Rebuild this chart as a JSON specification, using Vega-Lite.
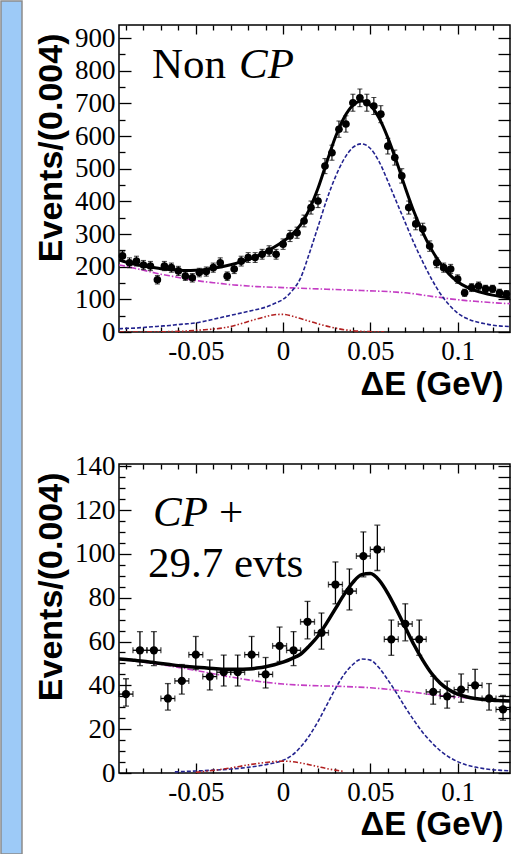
{
"$schema": "https://vega.github.io/schema/vega-lite/v6.json",
"background": "white",
"padding": 0,
"spacing": 10,
"bounds": "full",
"config": {
  "view": {"stroke": "#000", "strokeWidth": 1.5},
  "axis": {"grid": false, "domain": false, "tickColor": "#000", "tickWidth": 1.3, "labelOverlap": false, "labelFlush": false, "labelFont": "Liberation Serif", "labelFontSize": 27}
},
"datasets": {
  "tPts": [
    {"x":-0.092,"y":233,"lo":218,"hi":248,"xl":-0.094,"xh":-0.090},
    {"x":-0.088,"y":212,"lo":197,"hi":227,"xl":-0.090,"xh":-0.086},
    {"x":-0.084,"y":217,"lo":202,"hi":232,"xl":-0.086,"xh":-0.082},
    {"x":-0.080,"y":205,"lo":191,"hi":219,"xl":-0.082,"xh":-0.078},
    {"x":-0.076,"y":202,"lo":188,"hi":216,"xl":-0.078,"xh":-0.074},
    {"x":-0.072,"y":160,"lo":147,"hi":173,"xl":-0.074,"xh":-0.070},
    {"x":-0.068,"y":202,"lo":188,"hi":216,"xl":-0.070,"xh":-0.066},
    {"x":-0.064,"y":197,"lo":183,"hi":211,"xl":-0.066,"xh":-0.062},
    {"x":-0.060,"y":187,"lo":173,"hi":201,"xl":-0.062,"xh":-0.058},
    {"x":-0.056,"y":171,"lo":158,"hi":184,"xl":-0.058,"xh":-0.054},
    {"x":-0.052,"y":166,"lo":153,"hi":179,"xl":-0.054,"xh":-0.050},
    {"x":-0.048,"y":182,"lo":169,"hi":195,"xl":-0.050,"xh":-0.046},
    {"x":-0.044,"y":185,"lo":171,"hi":199,"xl":-0.046,"xh":-0.042},
    {"x":-0.040,"y":197,"lo":183,"hi":211,"xl":-0.042,"xh":-0.038},
    {"x":-0.036,"y":212,"lo":197,"hi":227,"xl":-0.038,"xh":-0.034},
    {"x":-0.032,"y":171,"lo":158,"hi":184,"xl":-0.034,"xh":-0.030},
    {"x":-0.028,"y":193,"lo":179,"hi":207,"xl":-0.030,"xh":-0.026},
    {"x":-0.024,"y":217,"lo":202,"hi":232,"xl":-0.026,"xh":-0.022},
    {"x":-0.020,"y":228,"lo":213,"hi":243,"xl":-0.022,"xh":-0.018},
    {"x":-0.016,"y":228,"lo":213,"hi":243,"xl":-0.018,"xh":-0.014},
    {"x":-0.012,"y":238,"lo":223,"hi":253,"xl":-0.014,"xh":-0.010},
    {"x":-0.008,"y":248,"lo":232,"hi":264,"xl":-0.010,"xh":-0.006},
    {"x":-0.004,"y":238,"lo":223,"hi":253,"xl":-0.006,"xh":-0.002},
    {"x":0.000,"y":269,"lo":253,"hi":285,"xl":-0.002,"xh":0.002},
    {"x":0.004,"y":294,"lo":277,"hi":311,"xl":0.002,"xh":0.006},
    {"x":0.008,"y":304,"lo":287,"hi":321,"xl":0.006,"xh":0.010},
    {"x":0.012,"y":340,"lo":322,"hi":358,"xl":0.010,"xh":0.014},
    {"x":0.016,"y":381,"lo":361,"hi":401,"xl":0.014,"xh":0.018},
    {"x":0.020,"y":401,"lo":381,"hi":421,"xl":0.018,"xh":0.022},
    {"x":0.024,"y":508,"lo":485,"hi":531,"xl":0.022,"xh":0.026},
    {"x":0.028,"y":549,"lo":526,"hi":572,"xl":0.026,"xh":0.030},
    {"x":0.032,"y":621,"lo":596,"hi":646,"xl":0.030,"xh":0.034},
    {"x":0.036,"y":637,"lo":612,"hi":662,"xl":0.034,"xh":0.038},
    {"x":0.040,"y":702,"lo":676,"hi":728,"xl":0.038,"xh":0.042},
    {"x":0.044,"y":717,"lo":690,"hi":744,"xl":0.042,"xh":0.046},
    {"x":0.048,"y":702,"lo":676,"hi":728,"xl":0.046,"xh":0.050},
    {"x":0.052,"y":692,"lo":666,"hi":718,"xl":0.050,"xh":0.054},
    {"x":0.056,"y":667,"lo":641,"hi":693,"xl":0.054,"xh":0.058},
    {"x":0.060,"y":569,"lo":545,"hi":593,"xl":0.058,"xh":0.062},
    {"x":0.064,"y":534,"lo":511,"hi":557,"xl":0.062,"xh":0.066},
    {"x":0.068,"y":478,"lo":456,"hi":500,"xl":0.066,"xh":0.070},
    {"x":0.072,"y":381,"lo":361,"hi":401,"xl":0.070,"xh":0.074},
    {"x":0.076,"y":331,"lo":313,"hi":349,"xl":0.074,"xh":0.078},
    {"x":0.080,"y":315,"lo":297,"hi":333,"xl":0.078,"xh":0.082},
    {"x":0.084,"y":263,"lo":247,"hi":279,"xl":0.082,"xh":0.086},
    {"x":0.088,"y":212,"lo":197,"hi":227,"xl":0.086,"xh":0.090},
    {"x":0.092,"y":197,"lo":183,"hi":211,"xl":0.090,"xh":0.094},
    {"x":0.096,"y":193,"lo":179,"hi":207,"xl":0.094,"xh":0.098},
    {"x":0.100,"y":162,"lo":149,"hi":175,"xl":0.098,"xh":0.102},
    {"x":0.104,"y":120,"lo":109,"hi":131,"xl":0.102,"xh":0.106},
    {"x":0.108,"y":136,"lo":124,"hi":148,"xl":0.106,"xh":0.110},
    {"x":0.112,"y":141,"lo":129,"hi":153,"xl":0.110,"xh":0.114},
    {"x":0.116,"y":132,"lo":121,"hi":143,"xl":0.114,"xh":0.118},
    {"x":0.120,"y":132,"lo":121,"hi":143,"xl":0.118,"xh":0.122},
    {"x":0.124,"y":120,"lo":109,"hi":131,"xl":0.122,"xh":0.126},
    {"x":0.128,"y":116,"lo":105,"hi":127,"xl":0.126,"xh":0.130}
  ],
  "tFit": [{"x":-0.094,"y":221},{"x":-0.09,"y":214},{"x":-0.085,"y":207},{"x":-0.08,"y":202},{"x":-0.075,"y":198},{"x":-0.07,"y":194},{"x":-0.065,"y":191},{"x":-0.06,"y":189},{"x":-0.055,"y":188},{"x":-0.05,"y":189},{"x":-0.045,"y":191},{"x":-0.04,"y":195},{"x":-0.035,"y":200},{"x":-0.03,"y":206},{"x":-0.025,"y":213},{"x":-0.02,"y":222},{"x":-0.015,"y":232},{"x":-0.01,"y":245},{"x":-0.005,"y":260},{"x":0,"y":277},{"x":0.005,"y":298},{"x":0.01,"y":328},{"x":0.015,"y":375},{"x":0.02,"y":440},{"x":0.025,"y":520},{"x":0.03,"y":597},{"x":0.035,"y":657},{"x":0.04,"y":694},{"x":0.045,"y":707},{"x":0.05,"y":694},{"x":0.055,"y":655},{"x":0.06,"y":595},{"x":0.065,"y":522},{"x":0.07,"y":442},{"x":0.075,"y":368},{"x":0.08,"y":305},{"x":0.085,"y":253},{"x":0.09,"y":211},{"x":0.095,"y":178},{"x":0.1,"y":154},{"x":0.105,"y":138},{"x":0.11,"y":127},{"x":0.115,"y":119},{"x":0.12,"y":113},{"x":0.125,"y":108},{"x":0.13,"y":104}],
  "tBkg": [{"x":-0.094,"y":205},{"x":-0.09,"y":201},{"x":-0.085,"y":195},{"x":-0.08,"y":189},{"x":-0.075,"y":183},{"x":-0.07,"y":177},{"x":-0.065,"y":172},{"x":-0.06,"y":167},{"x":-0.055,"y":162},{"x":-0.05,"y":158},{"x":-0.045,"y":154},{"x":-0.04,"y":151},{"x":-0.035,"y":148},{"x":-0.03,"y":145},{"x":-0.025,"y":143},{"x":-0.02,"y":141},{"x":-0.015,"y":139},{"x":-0.01,"y":138},{"x":-0.005,"y":137},{"x":0,"y":136},{"x":0.005,"y":135},{"x":0.01,"y":134},{"x":0.015,"y":133},{"x":0.02,"y":132},{"x":0.025,"y":131},{"x":0.03,"y":130},{"x":0.035,"y":129},{"x":0.04,"y":128},{"x":0.045,"y":127},{"x":0.05,"y":126},{"x":0.055,"y":125},{"x":0.06,"y":124},{"x":0.065,"y":122},{"x":0.07,"y":120},{"x":0.075,"y":117},{"x":0.08,"y":113},{"x":0.085,"y":109},{"x":0.09,"y":106},{"x":0.095,"y":102},{"x":0.1,"y":99},{"x":0.105,"y":96},{"x":0.11,"y":94},{"x":0.115,"y":92},{"x":0.12,"y":90},{"x":0.125,"y":88},{"x":0.13,"y":87}],
  "tSig": [{"x":-0.094,"y":10},{"x":-0.09,"y":11},{"x":-0.085,"y":12},{"x":-0.08,"y":14},{"x":-0.075,"y":16},{"x":-0.07,"y":18},{"x":-0.065,"y":20},{"x":-0.06,"y":23},{"x":-0.055,"y":25},{"x":-0.05,"y":28},{"x":-0.045,"y":33},{"x":-0.04,"y":39},{"x":-0.035,"y":45},{"x":-0.03,"y":51},{"x":-0.025,"y":57},{"x":-0.02,"y":63},{"x":-0.015,"y":69},{"x":-0.01,"y":76},{"x":-0.005,"y":87},{"x":0,"y":100},{"x":0.005,"y":125},{"x":0.01,"y":165},{"x":0.015,"y":240},{"x":0.02,"y":322},{"x":0.025,"y":405},{"x":0.03,"y":475},{"x":0.035,"y":530},{"x":0.04,"y":565},{"x":0.045,"y":576},{"x":0.05,"y":562},{"x":0.055,"y":522},{"x":0.06,"y":462},{"x":0.065,"y":398},{"x":0.07,"y":335},{"x":0.075,"y":272},{"x":0.08,"y":215},{"x":0.085,"y":163},{"x":0.09,"y":118},{"x":0.095,"y":84},{"x":0.1,"y":58},{"x":0.105,"y":42},{"x":0.11,"y":32},{"x":0.115,"y":26},{"x":0.12,"y":21},{"x":0.125,"y":18},{"x":0.13,"y":17}],
  "tPk": [{"x":-0.094,"y":0},{"x":-0.085,"y":0},{"x":-0.08,"y":0.2},{"x":-0.075,"y":0.4},{"x":-0.07,"y":0.7},{"x":-0.065,"y":1.2},{"x":-0.06,"y":2},{"x":-0.055,"y":3},{"x":-0.05,"y":5},{"x":-0.045,"y":7},{"x":-0.04,"y":9},{"x":-0.035,"y":12},{"x":-0.03,"y":17},{"x":-0.025,"y":24},{"x":-0.02,"y":32},{"x":-0.015,"y":40},{"x":-0.01,"y":47},{"x":-0.005,"y":53},{"x":0,"y":54},{"x":0.005,"y":49},{"x":0.01,"y":41},{"x":0.015,"y":33},{"x":0.02,"y":25},{"x":0.025,"y":18},{"x":0.03,"y":12},{"x":0.035,"y":7},{"x":0.04,"y":4},{"x":0.045,"y":2},{"x":0.05,"y":1},{"x":0.055,"y":0.4},{"x":0.058,"y":0.2}],
  "bPts": [
    {"x":-0.090,"y":36,"lo":30.5,"hi":43,"xl":-0.094,"xh":-0.086},
    {"x":-0.082,"y":56,"lo":49,"hi":64.5,"xl":-0.086,"xh":-0.078},
    {"x":-0.074,"y":56,"lo":49,"hi":64.5,"xl":-0.078,"xh":-0.070},
    {"x":-0.066,"y":34,"lo":28.7,"hi":40.8,"xl":-0.070,"xh":-0.062},
    {"x":-0.058,"y":42,"lo":36,"hi":49.5,"xl":-0.062,"xh":-0.054},
    {"x":-0.050,"y":54,"lo":47.2,"hi":62.3,"xl":-0.054,"xh":-0.046},
    {"x":-0.042,"y":44,"lo":37.9,"hi":51.6,"xl":-0.046,"xh":-0.038},
    {"x":-0.034,"y":46,"lo":39.7,"hi":53.8,"xl":-0.038,"xh":-0.030},
    {"x":-0.026,"y":46,"lo":39.7,"hi":53.8,"xl":-0.030,"xh":-0.022},
    {"x":-0.018,"y":54,"lo":47.2,"hi":62.3,"xl":-0.022,"xh":-0.014},
    {"x":-0.010,"y":45,"lo":38.8,"hi":52.7,"xl":-0.014,"xh":-0.006},
    {"x":-0.002,"y":58,"lo":50.9,"hi":66.6,"xl":-0.006,"xh":0.002},
    {"x":0.006,"y":56,"lo":49,"hi":64.5,"xl":0.002,"xh":0.010},
    {"x":0.014,"y":69,"lo":61.2,"hi":78.3,"xl":0.010,"xh":0.018},
    {"x":0.022,"y":64,"lo":56.5,"hi":73,"xl":0.018,"xh":0.026},
    {"x":0.030,"y":86,"lo":77.2,"hi":96.3,"xl":0.026,"xh":0.034},
    {"x":0.038,"y":83,"lo":74.4,"hi":93.1,"xl":0.034,"xh":0.042},
    {"x":0.046,"y":99,"lo":89.5,"hi":110,"xl":0.042,"xh":0.050},
    {"x":0.054,"y":102,"lo":92.4,"hi":113.1,"xl":0.050,"xh":0.058},
    {"x":0.062,"y":61,"lo":53.7,"hi":69.8,"xl":0.058,"xh":0.066},
    {"x":0.070,"y":68,"lo":60.3,"hi":77.2,"xl":0.066,"xh":0.074},
    {"x":0.078,"y":61,"lo":53.7,"hi":69.8,"xl":0.074,"xh":0.082},
    {"x":0.086,"y":37,"lo":31.4,"hi":44.1,"xl":0.082,"xh":0.090},
    {"x":0.094,"y":35,"lo":29.6,"hi":41.9,"xl":0.090,"xh":0.098},
    {"x":0.102,"y":38,"lo":32.3,"hi":45.2,"xl":0.098,"xh":0.106},
    {"x":0.110,"y":40,"lo":34.2,"hi":47.3,"xl":0.106,"xh":0.114},
    {"x":0.118,"y":34,"lo":28.7,"hi":40.8,"xl":0.114,"xh":0.122},
    {"x":0.126,"y":29,"lo":24.1,"hi":35.4,"xl":0.122,"xh":0.130}
  ],
  "bFit": [{"x":-0.094,"y":52},{"x":-0.09,"y":51.8},{"x":-0.085,"y":51.4},{"x":-0.08,"y":51},{"x":-0.075,"y":50.5},{"x":-0.07,"y":50},{"x":-0.065,"y":49.5},{"x":-0.06,"y":49},{"x":-0.055,"y":48.6},{"x":-0.05,"y":48.3},{"x":-0.045,"y":48},{"x":-0.04,"y":47.7},{"x":-0.035,"y":47.4},{"x":-0.03,"y":47.3},{"x":-0.025,"y":47.3},{"x":-0.02,"y":47.5},{"x":-0.015,"y":47.9},{"x":-0.01,"y":48.5},{"x":-0.005,"y":49.4},{"x":0,"y":50.6},{"x":0.005,"y":52.2},{"x":0.01,"y":54.2},{"x":0.015,"y":58},{"x":0.02,"y":62.5},{"x":0.025,"y":68.5},{"x":0.03,"y":75},{"x":0.035,"y":81.5},{"x":0.04,"y":87},{"x":0.045,"y":90.5},{"x":0.05,"y":91},{"x":0.055,"y":88},{"x":0.06,"y":82},{"x":0.065,"y":74.5},{"x":0.07,"y":66.5},{"x":0.075,"y":58.5},{"x":0.08,"y":51.5},{"x":0.085,"y":45.5},{"x":0.09,"y":41},{"x":0.095,"y":38},{"x":0.1,"y":36},{"x":0.105,"y":34.8},{"x":0.11,"y":34},{"x":0.115,"y":33.5},{"x":0.12,"y":33.2},{"x":0.125,"y":33},{"x":0.13,"y":32.8}],
  "bBkg": [{"x":-0.094,"y":52},{"x":-0.09,"y":51.6},{"x":-0.08,"y":50.6},{"x":-0.07,"y":49.5},{"x":-0.06,"y":48.2},{"x":-0.05,"y":46.8},{"x":-0.04,"y":45.3},{"x":-0.03,"y":43.8},{"x":-0.02,"y":42.5},{"x":-0.01,"y":41.4},{"x":0,"y":40.6},{"x":0.01,"y":40.1},{"x":0.02,"y":39.8},{"x":0.03,"y":39.6},{"x":0.04,"y":39.3},{"x":0.05,"y":38.9},{"x":0.06,"y":38.2},{"x":0.07,"y":37.3},{"x":0.08,"y":36.3},{"x":0.09,"y":35.3},{"x":0.1,"y":34.6},{"x":0.11,"y":34},{"x":0.12,"y":33.4},{"x":0.13,"y":32.8}],
  "bSig": [{"x":-0.062,"y":0.5},{"x":-0.05,"y":0.9},{"x":-0.04,"y":1.3},{"x":-0.03,"y":1.8},{"x":-0.02,"y":2.6},{"x":-0.01,"y":3.8},{"x":0,"y":5.8},{"x":0.005,"y":8},{"x":0.01,"y":11.8},{"x":0.015,"y":17},{"x":0.02,"y":23.5},{"x":0.025,"y":31},{"x":0.03,"y":38.5},{"x":0.035,"y":45},{"x":0.04,"y":49.5},{"x":0.045,"y":52},{"x":0.05,"y":51.5},{"x":0.055,"y":48},{"x":0.06,"y":42.5},{"x":0.065,"y":36.5},{"x":0.07,"y":30},{"x":0.075,"y":24},{"x":0.08,"y":18.5},{"x":0.085,"y":14},{"x":0.09,"y":10.2},{"x":0.095,"y":7.3},{"x":0.1,"y":5.2},{"x":0.105,"y":3.7},{"x":0.11,"y":2.7},{"x":0.115,"y":2},{"x":0.12,"y":1.5},{"x":0.125,"y":1.2},{"x":0.13,"y":1}],
  "bPk": [{"x":-0.05,"y":0.3},{"x":-0.045,"y":0.7},{"x":-0.04,"y":1.2},{"x":-0.035,"y":1.7},{"x":-0.03,"y":2.3},{"x":-0.025,"y":3},{"x":-0.02,"y":3.7},{"x":-0.015,"y":4.3},{"x":-0.01,"y":4.8},{"x":-0.005,"y":5.2},{"x":0,"y":5.4},{"x":0.005,"y":5.2},{"x":0.01,"y":4.6},{"x":0.015,"y":3.8},{"x":0.02,"y":2.9},{"x":0.025,"y":2},{"x":0.03,"y":1.3},{"x":0.035,"y":0.7}],
  "tTxt": [{"x":-0.0751,"y":777,"t":"Non"}],
  "tTxtI": [{"x":-0.0252,"y":777,"t":"CP"}],
  "bTxt": [{"x":-0.0774,"y":89.5,"t":"29.7 evts"},{"x":-0.0367,"y":112.8,"t":"+"}],
  "bTxtI": [{"x":-0.0745,"y":112.8,"t":"CP"}]
},
"hconcat": [
  {"width": 21, "height": 853, "data": {"values": []}, "mark": "point", "view": {"fill": "#9dcaf7", "stroke": "#8c8c8c", "strokeWidth": 1.5}},
  {"vconcat": [
    {"width": 391, "height": 24, "data": {"values": []}, "mark": "point", "view": {"stroke": null}},
    {"width": 391, "height": 307,
     "view": {"stroke": "#000", "strokeWidth": 1.5},
     "layer": [
       {"data": {"name": "tBkg"}, "mark": {"type": "line", "color": "#c43cc4", "strokeWidth": 1.6, "strokeDash": [6, 2, 1.5, 2], "interpolate": "monotone", "clip": true},
        "encoding": {
          "x": {"field": "x", "type": "quantitative", "scale": {"domain": [-0.094, 0.13], "nice": false, "zero": false},
                "axis": {"orient": "bottom", "values": [-0.05, 0, 0.05, 0.1], "tickSize": -10, "labelPadding": 16,
                         "labelFont": "Liberation Serif", "labelFontSize": 27,
                         "labelExpr": "datum.value < 0 ? '-' + format(-datum.value, '~g') : format(datum.value, '~g')",
                         "title": "ΔE (GeV)", "titleFont": "Liberation Sans", "titleFontWeight": "bold", "titleFontSize": 33, "titleColor": "#000",
                         "titleAnchor": "end", "titleAlign": "right", "titleX": 384, "titleY": 62, "titleBaseline": "alphabetic"}},
          "y": {"field": "y", "type": "quantitative", "scale": {"domain": [0, 940], "nice": false},
                "axis": {"orient": "left", "values": [0,100,200,300,400,500,600,700,800,900], "tickSize": -12, "labelPadding": 16,
                         "labelFont": "Liberation Serif", "labelFontSize": 27,
                         "title": "Events/(0.004)", "titleFont": "Liberation Sans", "titleFontWeight": "bold", "titleFontSize": 34, "titleColor": "#000",
                         "titleAnchor": "end", "titleAlign": "right", "titleAngle": 270, "titleX": -58, "titleY": 8, "titleBaseline": "alphabetic"}}
        }},
       {"data": {"name": "tSig"}, "mark": {"type": "line", "color": "#23238f", "strokeWidth": 1.6, "strokeDash": [4, 2], "interpolate": "monotone", "clip": true},
        "encoding": {"x": {"field": "x", "type": "quantitative", "scale": {"domain": [-0.094, 0.13], "nice": false, "zero": false}, "axis": null},
                     "y": {"field": "y", "type": "quantitative", "scale": {"domain": [0, 940], "nice": false}, "axis": null}}},
       {"data": {"name": "tPk"}, "mark": {"type": "line", "color": "#b22020", "strokeWidth": 1.6, "strokeDash": [5, 2, 1.5, 2, 1.5, 2], "interpolate": "monotone", "clip": true},
        "encoding": {"x": {"field": "x", "type": "quantitative", "scale": {"domain": [-0.094, 0.13], "nice": false, "zero": false}, "axis": null},
                     "y": {"field": "y", "type": "quantitative", "scale": {"domain": [0, 940], "nice": false}, "axis": null}}},
       {"data": {"name": "tFit"}, "mark": {"type": "line", "color": "#000", "strokeWidth": 3, "interpolate": "monotone", "clip": true},
        "encoding": {"x": {"field": "x", "type": "quantitative", "scale": {"domain": [-0.094, 0.13], "nice": false, "zero": false}, "axis": null},
                     "y": {"field": "y", "type": "quantitative", "scale": {"domain": [0, 940], "nice": false}, "axis": null}}},
       {"data": {"name": "tPts"}, "mark": {"type": "rule", "color": "#000", "strokeWidth": 1.1},
        "encoding": {
          "x": {"field": "x", "type": "quantitative", "scale": {"domain": [-0.094, 0.13], "nice": false, "zero": false},
                "axis": {"orient": "bottom", "values": [-0.09,-0.08,-0.07,-0.06,-0.04,-0.03,-0.02,-0.01,0.01,0.02,0.03,0.04,0.06,0.07,0.08,0.09,0.11,0.12], "tickSize": -5, "labels": false, "title": null}},
          "y": {"field": "lo", "type": "quantitative", "scale": {"domain": [0, 940], "nice": false},
                "axis": {"orient": "left", "values": [50,150,250,350,450,550,650,750,850], "tickSize": -6, "labels": false, "title": null}},
          "y2": {"field": "hi"}
        }},
       {"data": {"name": "tPts"}, "mark": {"type": "rule", "color": "#000", "strokeWidth": 1.1},
        "encoding": {
          "x": {"field": "xl", "type": "quantitative", "scale": {"domain": [-0.094, 0.13], "nice": false, "zero": false},
                "axis": {"orient": "top", "values": [-0.05, 0, 0.05, 0.1], "tickSize": -9, "labels": false, "title": null}},
          "x2": {"field": "xh"},
          "y": {"field": "y", "type": "quantitative", "scale": {"domain": [0, 940], "nice": false},
                "axis": {"orient": "right", "values": [0,50,100,150,200,250,300,350,400,450,500,550,600,650,700,750,800,850,900], "tickSize": -12, "labels": false, "title": null}}
        }},
       {"data": {"name": "tPts"}, "mark": {"type": "tick", "orient": "horizontal", "color": "#000", "size": 5, "thickness": 1.1},
        "encoding": {
          "x": {"field": "x", "type": "quantitative", "scale": {"domain": [-0.094, 0.13], "nice": false, "zero": false},
                "axis": {"orient": "top", "values": [-0.09,-0.08,-0.07,-0.06,-0.04,-0.03,-0.02,-0.01,0.01,0.02,0.03,0.04,0.06,0.07,0.08,0.09,0.11,0.12], "tickSize": -5, "labels": false, "title": null}},
          "y": {"field": "hi", "type": "quantitative", "scale": {"domain": [0, 940], "nice": false}, "axis": null}
        }},
       {"data": {"name": "tPts"}, "mark": {"type": "tick", "orient": "horizontal", "color": "#000", "size": 5, "thickness": 1.1},
        "encoding": {
          "x": {"field": "x", "type": "quantitative", "scale": {"domain": [-0.094, 0.13], "nice": false, "zero": false}, "axis": null},
          "y": {"field": "lo", "type": "quantitative", "scale": {"domain": [0, 940], "nice": false}, "axis": null}
        }},
       {"data": {"name": "tPts"}, "mark": {"type": "circle", "color": "#000", "size": 58, "opacity": 1},
        "encoding": {
          "x": {"field": "x", "type": "quantitative", "scale": {"domain": [-0.094, 0.13], "nice": false, "zero": false}, "axis": null},
          "y": {"field": "y", "type": "quantitative", "scale": {"domain": [0, 940], "nice": false}, "axis": null}
        }},
       {"data": {"name": "tTxt"}, "mark": {"type": "text", "font": "Liberation Serif", "fontSize": 43, "align": "left", "baseline": "alphabetic", "color": "#000"},
        "encoding": {"x": {"field": "x", "type": "quantitative", "scale": {"domain": [-0.094, 0.13], "nice": false, "zero": false}, "axis": null},
                     "y": {"field": "y", "type": "quantitative", "scale": {"domain": [0, 940], "nice": false}, "axis": null},
                     "text": {"field": "t"}}},
       {"data": {"name": "tTxtI"}, "mark": {"type": "text", "font": "Liberation Serif", "fontSize": 43, "fontStyle": "italic", "align": "left", "baseline": "alphabetic", "color": "#000"},
        "encoding": {"x": {"field": "x", "type": "quantitative", "scale": {"domain": [-0.094, 0.13], "nice": false, "zero": false}, "axis": null},
                     "y": {"field": "y", "type": "quantitative", "scale": {"domain": [0, 940], "nice": false}, "axis": null},
                     "text": {"field": "t"}}}
     ],
     "resolve": {"axis": {"x": "independent", "y": "independent"}}
    },
    {"width": 391, "height": 132, "data": {"values": []}, "mark": "point", "view": {"stroke": null}},
    {"width": 391, "height": 309,
     "view": {"stroke": "#000", "strokeWidth": 1.5},
     "layer": [
       {"data": {"name": "bBkg"}, "mark": {"type": "line", "color": "#c43cc4", "strokeWidth": 1.6, "strokeDash": [6, 2, 1.5, 2], "interpolate": "monotone", "clip": true},
        "encoding": {
          "x": {"field": "x", "type": "quantitative", "scale": {"domain": [-0.094, 0.13], "nice": false, "zero": false},
                "axis": {"orient": "bottom", "values": [-0.05, 0, 0.05, 0.1], "tickSize": -10, "labelPadding": 16,
                         "labelFont": "Liberation Serif", "labelFontSize": 27,
                         "labelExpr": "datum.value < 0 ? '-' + format(-datum.value, '~g') : format(datum.value, '~g')",
                         "title": "ΔE (GeV)", "titleFont": "Liberation Sans", "titleFontWeight": "bold", "titleFontSize": 33, "titleColor": "#000",
                         "titleAnchor": "end", "titleAlign": "right", "titleX": 384, "titleY": 61, "titleBaseline": "alphabetic"}},
          "y": {"field": "y", "type": "quantitative", "scale": {"domain": [0, 141], "nice": false},
                "axis": {"orient": "left", "values": [0,20,40,60,80,100,120,140], "tickSize": -12, "labelPadding": 16,
                         "labelFont": "Liberation Serif", "labelFontSize": 27,
                         "title": "Events/(0.004)", "titleFont": "Liberation Sans", "titleFontWeight": "bold", "titleFontSize": 34, "titleColor": "#000",
                         "titleAnchor": "end", "titleAlign": "right", "titleAngle": 270, "titleX": -58, "titleY": 8, "titleBaseline": "alphabetic"}}
        }},
       {"data": {"name": "bSig"}, "mark": {"type": "line", "color": "#23238f", "strokeWidth": 1.6, "strokeDash": [4, 2], "interpolate": "monotone", "clip": true},
        "encoding": {"x": {"field": "x", "type": "quantitative", "scale": {"domain": [-0.094, 0.13], "nice": false, "zero": false}, "axis": null},
                     "y": {"field": "y", "type": "quantitative", "scale": {"domain": [0, 141], "nice": false}, "axis": null}}},
       {"data": {"name": "bPk"}, "mark": {"type": "line", "color": "#b22020", "strokeWidth": 1.6, "strokeDash": [5, 2, 1.5, 2, 1.5, 2], "interpolate": "monotone", "clip": true},
        "encoding": {"x": {"field": "x", "type": "quantitative", "scale": {"domain": [-0.094, 0.13], "nice": false, "zero": false}, "axis": null},
                     "y": {"field": "y", "type": "quantitative", "scale": {"domain": [0, 141], "nice": false}, "axis": null}}},
       {"data": {"name": "bFit"}, "mark": {"type": "line", "color": "#000", "strokeWidth": 3.5, "interpolate": "monotone", "clip": true},
        "encoding": {"x": {"field": "x", "type": "quantitative", "scale": {"domain": [-0.094, 0.13], "nice": false, "zero": false}, "axis": null},
                     "y": {"field": "y", "type": "quantitative", "scale": {"domain": [0, 141], "nice": false}, "axis": null}}},
       {"data": {"name": "bPts"}, "mark": {"type": "rule", "color": "#000", "strokeWidth": 1.3},
        "encoding": {
          "x": {"field": "x", "type": "quantitative", "scale": {"domain": [-0.094, 0.13], "nice": false, "zero": false},
                "axis": {"orient": "bottom", "values": [-0.09,-0.08,-0.07,-0.06,-0.04,-0.03,-0.02,-0.01,0.01,0.02,0.03,0.04,0.06,0.07,0.08,0.09,0.11,0.12], "tickSize": -5, "labels": false, "title": null}},
          "y": {"field": "lo", "type": "quantitative", "scale": {"domain": [0, 141], "nice": false},
                "axis": {"orient": "left", "values": [5,10,15,25,30,35,45,50,55,65,70,75,85,90,95,105,110,115,125,130,135], "tickSize": -6, "labels": false, "title": null}},
          "y2": {"field": "hi"}
        }},
       {"data": {"name": "bPts"}, "mark": {"type": "rule", "color": "#000", "strokeWidth": 1.3},
        "encoding": {
          "x": {"field": "xl", "type": "quantitative", "scale": {"domain": [-0.094, 0.13], "nice": false, "zero": false},
                "axis": {"orient": "top", "values": [-0.05, 0, 0.05, 0.1], "tickSize": -9, "labels": false, "title": null}},
          "x2": {"field": "xh"},
          "y": {"field": "y", "type": "quantitative", "scale": {"domain": [0, 141], "nice": false},
                "axis": {"orient": "right", "values": [0,5,10,15,20,25,30,35,40,45,50,55,60,65,70,75,80,85,90,95,100,105,110,115,120,125,130,135,140], "tickSize": -12, "labels": false, "title": null}}
        }},
       {"data": {"name": "bPts"}, "mark": {"type": "tick", "orient": "horizontal", "color": "#000", "size": 6, "thickness": 1.3},
        "encoding": {
          "x": {"field": "x", "type": "quantitative", "scale": {"domain": [-0.094, 0.13], "nice": false, "zero": false},
                "axis": {"orient": "top", "values": [-0.09,-0.08,-0.07,-0.06,-0.04,-0.03,-0.02,-0.01,0.01,0.02,0.03,0.04,0.06,0.07,0.08,0.09,0.11,0.12], "tickSize": -5, "labels": false, "title": null}},
          "y": {"field": "hi", "type": "quantitative", "scale": {"domain": [0, 141], "nice": false}, "axis": null}
        }},
       {"data": {"name": "bPts"}, "mark": {"type": "tick", "orient": "horizontal", "color": "#000", "size": 6, "thickness": 1.3},
        "encoding": {
          "x": {"field": "x", "type": "quantitative", "scale": {"domain": [-0.094, 0.13], "nice": false, "zero": false}, "axis": null},
          "y": {"field": "lo", "type": "quantitative", "scale": {"domain": [0, 141], "nice": false}, "axis": null}
        }},
       {"data": {"name": "bPts"}, "mark": {"type": "tick", "orient": "vertical", "color": "#000", "size": 6, "thickness": 1.3},
        "encoding": {
          "x": {"field": "xl", "type": "quantitative", "scale": {"domain": [-0.094, 0.13], "nice": false, "zero": false}, "axis": null},
          "y": {"field": "y", "type": "quantitative", "scale": {"domain": [0, 141], "nice": false}, "axis": null}
        }},
       {"data": {"name": "bPts"}, "mark": {"type": "tick", "orient": "vertical", "color": "#000", "size": 6, "thickness": 1.3},
        "encoding": {
          "x": {"field": "xh", "type": "quantitative", "scale": {"domain": [-0.094, 0.13], "nice": false, "zero": false}, "axis": null},
          "y": {"field": "y", "type": "quantitative", "scale": {"domain": [0, 141], "nice": false}, "axis": null}
        }},
       {"data": {"name": "bPts"}, "mark": {"type": "circle", "color": "#000", "size": 68, "opacity": 1},
        "encoding": {
          "x": {"field": "x", "type": "quantitative", "scale": {"domain": [-0.094, 0.13], "nice": false, "zero": false}, "axis": null},
          "y": {"field": "y", "type": "quantitative", "scale": {"domain": [0, 141], "nice": false}, "axis": null}
        }},
       {"data": {"name": "bTxt"}, "mark": {"type": "text", "font": "Liberation Serif", "fontSize": 43, "align": "left", "baseline": "alphabetic", "color": "#000"},
        "encoding": {"x": {"field": "x", "type": "quantitative", "scale": {"domain": [-0.094, 0.13], "nice": false, "zero": false}, "axis": null},
                     "y": {"field": "y", "type": "quantitative", "scale": {"domain": [0, 141], "nice": false}, "axis": null},
                     "text": {"field": "t"}}},
       {"data": {"name": "bTxtI"}, "mark": {"type": "text", "font": "Liberation Serif", "fontSize": 43, "fontStyle": "italic", "align": "left", "baseline": "alphabetic", "color": "#000"},
        "encoding": {"x": {"field": "x", "type": "quantitative", "scale": {"domain": [-0.094, 0.13], "nice": false, "zero": false}, "axis": null},
                     "y": {"field": "y", "type": "quantitative", "scale": {"domain": [0, 141], "nice": false}, "axis": null},
                     "text": {"field": "t"}}}
     ],
     "resolve": {"axis": {"x": "independent", "y": "independent"}}
    }
  ], "spacing": 0, "bounds": "flush"}
]
}
